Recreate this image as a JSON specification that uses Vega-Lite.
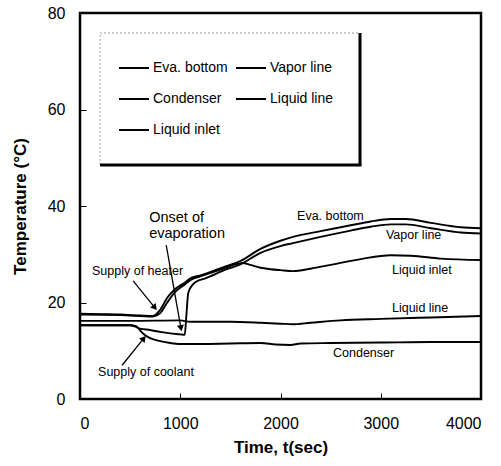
{
  "$schema": "https://vega.github.io/schema/vega-lite/v6.json",
  "width": 401,
  "height": 386,
  "autosize": "none",
  "padding": {"left": 80, "top": 13, "right": 20, "bottom": 67},
  "background": "white",
  "config": {
    "font": "Liberation Sans",
    "view": {"stroke": "black", "strokeWidth": 2.5},
    "axis": {
      "grid": false,
      "domain": false,
      "tickColor": "black",
      "tickSize": -6,
      "tickWidth": 1,
      "labelColor": "black",
      "labelFontSize": 16,
      "titleColor": "black",
      "titleFontSize": 17,
      "titleFontWeight": "bold"
    },
    "legend": {
      "orient": "none",
      "legendX": 38,
      "legendY": 39,
      "columns": 2,
      "columnPadding": 4,
      "rowPadding": 8,
      "padding": 0,
      "symbolType": "stroke",
      "symbolSize": 900,
      "symbolStrokeWidth": 2,
      "symbolStrokeColor": "black",
      "labelFontSize": 14,
      "labelColor": "black",
      "labelOffset": 3,
      "title": null
    }
  },
  "datasets": {
    "series": [
      {"series": "Eva. bottom", "t": 0, "T": 17.7},
      {"series": "Eva. bottom", "t": 200, "T": 17.6},
      {"series": "Eva. bottom", "t": 400, "T": 17.5},
      {"series": "Eva. bottom", "t": 600, "T": 17.3},
      {"series": "Eva. bottom", "t": 730, "T": 17.2},
      {"series": "Eva. bottom", "t": 800, "T": 18.5},
      {"series": "Eva. bottom", "t": 870, "T": 21},
      {"series": "Eva. bottom", "t": 950, "T": 22.8},
      {"series": "Eva. bottom", "t": 1050, "T": 24.2},
      {"series": "Eva. bottom", "t": 1100, "T": 25},
      {"series": "Eva. bottom", "t": 1200, "T": 25.6},
      {"series": "Eva. bottom", "t": 1465, "T": 27.6},
      {"series": "Eva. bottom", "t": 1600, "T": 28.6},
      {"series": "Eva. bottom", "t": 1800, "T": 31.1},
      {"series": "Eva. bottom", "t": 2000, "T": 32.8},
      {"series": "Eva. bottom", "t": 2125, "T": 33.6},
      {"series": "Eva. bottom", "t": 2400, "T": 34.8},
      {"series": "Eva. bottom", "t": 2700, "T": 36},
      {"series": "Eva. bottom", "t": 2900, "T": 36.8},
      {"series": "Eva. bottom", "t": 3100, "T": 37.3},
      {"series": "Eva. bottom", "t": 3250, "T": 37.3},
      {"series": "Eva. bottom", "t": 3500, "T": 36.5},
      {"series": "Eva. bottom", "t": 3800, "T": 35.6},
      {"series": "Eva. bottom", "t": 4000, "T": 35.4},

      {"series": "Vapor line", "t": 0, "T": 15.3},
      {"series": "Vapor line", "t": 500, "T": 15.3},
      {"series": "Vapor line", "t": 550, "T": 15.0},
      {"series": "Vapor line", "t": 600, "T": 14.6},
      {"series": "Vapor line", "t": 700, "T": 14.3},
      {"series": "Vapor line", "t": 800, "T": 13.9},
      {"series": "Vapor line", "t": 900, "T": 13.6},
      {"series": "Vapor line", "t": 1000, "T": 13.4},
      {"series": "Vapor line", "t": 1045, "T": 13.3},
      {"series": "Vapor line", "t": 1060, "T": 17},
      {"series": "Vapor line", "t": 1080, "T": 22},
      {"series": "Vapor line", "t": 1110, "T": 23.3},
      {"series": "Vapor line", "t": 1150, "T": 24.2},
      {"series": "Vapor line", "t": 1250, "T": 25},
      {"series": "Vapor line", "t": 1465, "T": 26.9},
      {"series": "Vapor line", "t": 1600, "T": 27.9},
      {"series": "Vapor line", "t": 1800, "T": 30.3},
      {"series": "Vapor line", "t": 2000, "T": 31.7},
      {"series": "Vapor line", "t": 2125, "T": 32.3},
      {"series": "Vapor line", "t": 2400, "T": 33.6},
      {"series": "Vapor line", "t": 2700, "T": 34.9},
      {"series": "Vapor line", "t": 2900, "T": 35.7},
      {"series": "Vapor line", "t": 3100, "T": 36.2},
      {"series": "Vapor line", "t": 3250, "T": 36.2},
      {"series": "Vapor line", "t": 3500, "T": 35.4},
      {"series": "Vapor line", "t": 3800, "T": 34.5},
      {"series": "Vapor line", "t": 4000, "T": 34.3},

      {"series": "Condenser", "t": 0, "T": 15.3},
      {"series": "Condenser", "t": 500, "T": 15.3},
      {"series": "Condenser", "t": 560, "T": 15.1},
      {"series": "Condenser", "t": 600, "T": 14.2},
      {"series": "Condenser", "t": 650, "T": 13.2},
      {"series": "Condenser", "t": 700, "T": 12.6},
      {"series": "Condenser", "t": 800, "T": 12.0},
      {"series": "Condenser", "t": 900, "T": 11.6},
      {"series": "Condenser", "t": 1000, "T": 11.4},
      {"series": "Condenser", "t": 1200, "T": 11.4},
      {"series": "Condenser", "t": 1500, "T": 11.5},
      {"series": "Condenser", "t": 1800, "T": 11.6},
      {"series": "Condenser", "t": 1950, "T": 11.3},
      {"series": "Condenser", "t": 2100, "T": 11.2},
      {"series": "Condenser", "t": 2200, "T": 11.5},
      {"series": "Condenser", "t": 2500, "T": 11.6},
      {"series": "Condenser", "t": 3000, "T": 11.7},
      {"series": "Condenser", "t": 3500, "T": 11.8},
      {"series": "Condenser", "t": 4000, "T": 11.8},

      {"series": "Liquid line", "t": 0, "T": 16.2},
      {"series": "Liquid line", "t": 500, "T": 16.2},
      {"series": "Liquid line", "t": 1000, "T": 16.3},
      {"series": "Liquid line", "t": 1100, "T": 16.0},
      {"series": "Liquid line", "t": 1500, "T": 16.0},
      {"series": "Liquid line", "t": 1800, "T": 15.8},
      {"series": "Liquid line", "t": 2000, "T": 15.6},
      {"series": "Liquid line", "t": 2125, "T": 15.5},
      {"series": "Liquid line", "t": 2300, "T": 15.8},
      {"series": "Liquid line", "t": 2600, "T": 16.3},
      {"series": "Liquid line", "t": 3000, "T": 16.6},
      {"series": "Liquid line", "t": 3500, "T": 16.9},
      {"series": "Liquid line", "t": 4000, "T": 17.2},

      {"series": "Liquid inlet", "t": 0, "T": 17.5},
      {"series": "Liquid inlet", "t": 400, "T": 17.4},
      {"series": "Liquid inlet", "t": 730, "T": 17.1},
      {"series": "Liquid inlet", "t": 800, "T": 17.8},
      {"series": "Liquid inlet", "t": 870, "T": 20},
      {"series": "Liquid inlet", "t": 950, "T": 22.2},
      {"series": "Liquid inlet", "t": 1050, "T": 23.8},
      {"series": "Liquid inlet", "t": 1100, "T": 24.6},
      {"series": "Liquid inlet", "t": 1200, "T": 25.4},
      {"series": "Liquid inlet", "t": 1400, "T": 26.8},
      {"series": "Liquid inlet", "t": 1550, "T": 27.9},
      {"series": "Liquid inlet", "t": 1620, "T": 28.2},
      {"series": "Liquid inlet", "t": 1700, "T": 27.8},
      {"series": "Liquid inlet", "t": 1800, "T": 27.2},
      {"series": "Liquid inlet", "t": 1900, "T": 26.9},
      {"series": "Liquid inlet", "t": 2000, "T": 26.7},
      {"series": "Liquid inlet", "t": 2125, "T": 26.5},
      {"series": "Liquid inlet", "t": 2300, "T": 27},
      {"series": "Liquid inlet", "t": 2500, "T": 27.8},
      {"series": "Liquid inlet", "t": 2800, "T": 29},
      {"series": "Liquid inlet", "t": 3100, "T": 29.8},
      {"series": "Liquid inlet", "t": 3300, "T": 29.7},
      {"series": "Liquid inlet", "t": 3600, "T": 29.1},
      {"series": "Liquid inlet", "t": 4000, "T": 28.8}
    ],
    "notes": [
      {"label": "Supply of heater", "t": 120, "T": 26.5, "size": "small"},
      {"label": "Supply of coolant", "t": 180, "T": 5.6, "size": "small"},
      {"label": "Onset of", "t": 690, "T": 37.5, "size": "large"},
      {"label": "evaporation", "t": 690, "T": 34.2, "size": "large"},
      {"label": "Eva. bottom", "t": 2165, "T": 37.9, "size": "small"},
      {"label": "Vapor line", "t": 3052, "T": 34, "size": "small"},
      {"label": "Liquid inlet", "t": 3112, "T": 26.7, "size": "small"},
      {"label": "Liquid line", "t": 3112, "T": 18.9, "size": "small"},
      {"label": "Condenser", "t": 2524, "T": 9.5, "size": "small"}
    ],
    "arrows": [
      {"name": "heater", "t": 530, "T": 24.5, "t2": 740, "T2": 19.1, "angle": 141},
      {"name": "coolant", "t": 420, "T": 7, "t2": 630, "T2": 12.4, "angle": 39},
      {"name": "onset", "t": 860, "T": 31.9, "t2": 1005, "T2": 14.9, "angle": 170}
    ]
  },
  "layer": [
    {
      "data": {"name": "series"},
      "mark": {"type": "line", "strokeWidth": 1.9, "interpolate": "monotone"},
      "encoding": {
        "x": {
          "field": "t", "type": "quantitative",
          "scale": {"domain": [0, 4000], "nice": false},
          "axis": {"values": [0, 1000, 2000, 3000, 4000], "format": "d", "title": "Time, t(sec)", "labelPadding": 22, "titlePadding": 8}
        },
        "y": {
          "field": "T", "type": "quantitative",
          "scale": {"domain": [0, 80], "nice": false},
          "axis": {"values": [0, 20, 40, 60, 80], "format": "d", "title": "Temperature (°C)", "labelPadding": 21, "titlePadding": 18}
        },
        "color": {
          "field": "series", "type": "nominal",
          "scale": {
            "domain": ["Eva. bottom", "Condenser", "Liquid inlet", "Vapor line", "Liquid line"],
            "range": ["black", "black", "black", "black", "black"]
          },
          "legend": {"title": null}
        }
      }
    },
    {
      "data": {"values": [{}]},
      "mark": {"type": "rect", "fill": "white", "stroke": "#999999", "strokeWidth": 1, "strokeDash": [2, 2]},
      "encoding": {
        "x": {"datum": 200, "type": "quantitative"},
        "x2": {"datum": 2793},
        "y": {"datum": 75.85, "type": "quantitative"},
        "y2": {"datum": 48.5}
      }
    },
    {
      "data": {"values": [{}]},
      "mark": {"type": "rule", "stroke": "black", "strokeWidth": 3},
      "encoding": {
        "x": {"datum": 2793, "type": "quantitative"},
        "y": {"datum": 75.85, "type": "quantitative"},
        "y2": {"datum": 48.5}
      }
    },
    {
      "data": {"values": [{}]},
      "mark": {"type": "rule", "stroke": "black", "strokeWidth": 3},
      "encoding": {
        "x": {"datum": 200, "type": "quantitative"},
        "x2": {"datum": 2808},
        "y": {"datum": 48.5, "type": "quantitative"}
      }
    },
    {
      "data": {"name": "notes"},
      "mark": {"type": "text", "align": "left", "baseline": "middle", "color": "black"},
      "encoding": {
        "x": {"field": "t", "type": "quantitative"},
        "y": {"field": "T", "type": "quantitative"},
        "text": {"field": "label"},
        "size": {"field": "size", "type": "nominal", "scale": {"domain": ["small", "large"], "range": [12.5, 14.5]}, "legend": null}
      }
    },
    {
      "data": {"name": "arrows"},
      "mark": {"type": "rule", "stroke": "black", "strokeWidth": 1.3},
      "encoding": {
        "x": {"field": "t", "type": "quantitative"},
        "y": {"field": "T", "type": "quantitative"},
        "x2": {"field": "t2"},
        "y2": {"field": "T2"}
      }
    },
    {
      "data": {"name": "arrows"},
      "mark": {"type": "point", "shape": "triangle", "filled": true, "color": "black", "size": 50, "opacity": 1},
      "encoding": {
        "x": {"field": "t2", "type": "quantitative"},
        "y": {"field": "T2", "type": "quantitative"},
        "angle": {"field": "angle", "type": "quantitative", "scale": null}
      }
    }
  ]
}
